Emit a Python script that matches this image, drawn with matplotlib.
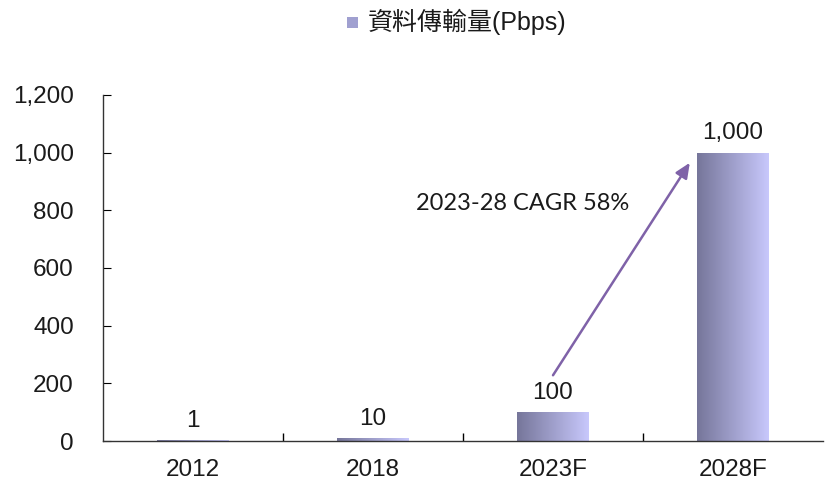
import matplotlib
matplotlib.use("Agg")
import matplotlib.pyplot as plt
import numpy as np
from matplotlib.colors import LinearSegmentedColormap
from matplotlib.ticker import FuncFormatter

categories = ["2012", "2018", "2023F", "2028F"]
values = [1, 10, 100, 1000]
value_labels = ["1", "10", "100", "1,000"]
series_name = "資料傳輸量(Pbps)"
cagr_text = "2023-28 CAGR 58%"

num_font = ["Liberation Sans", "DejaVu Sans"]

fig = plt.figure(figsize=(8.25, 4.82), dpi=100)
ax = fig.add_axes([103/825, 1-441/482, 720/825, 346/482])

cmap = LinearSegmentedColormap.from_list("g", ["#76769a", "#c8c8fc"])
grad = np.linspace(0, 1, 256).reshape(1, -1)
width = 0.4
x = np.arange(len(categories))
bars = ax.bar(x, values, width=width, color="none", edgecolor="none")
for b in bars:
    x0, y0 = b.get_x(), b.get_y()
    w, h = b.get_width(), b.get_height()
    im = ax.imshow(grad, cmap=cmap, aspect="auto",
                   extent=[x0, x0 + w, y0, y0 + max(h, 3)], zorder=2)
    rect = plt.Rectangle((x0, y0), w, max(h, 3), transform=ax.transData)
    im.set_clip_path(rect)

for xi, v, lab in zip(x, values, value_labels):
    ax.annotate(lab, (xi, v), xytext=(0, 6), textcoords="offset points",
                ha="center", va="bottom", fontsize=17.5, family=num_font,
                color="#1a1a1a")

ax.set_xlim(-0.5, 3.5)
ax.set_ylim(0, 1200)
ax.set_yticks(np.arange(0, 1201, 200))
ax.yaxis.set_major_formatter(FuncFormatter(lambda v, p: f"{int(v):,}"))
ax.set_xticks(x)
ax.set_xticklabels(categories)
ax.set_xticks(np.arange(0.5, 3.5, 1), minor=True)
ax.tick_params(axis="x", which="major", length=0, pad=13, labelsize=17.5)
ax.tick_params(axis="x", which="minor", length=6, direction="in", width=1)
ax.tick_params(axis="y", which="major", length=6, direction="in", pad=21,
               labelsize=17.5)
for lab in ax.get_xticklabels() + ax.get_yticklabels():
    lab.set_family(num_font)
    lab.set_color("#1a1a1a")
ax.spines["top"].set_visible(False)
ax.spines["right"].set_visible(False)
for s in ("left", "bottom"):
    ax.spines[s].set_color("#333333")
    ax.spines[s].set_linewidth(1)

ax.annotate("", xy=(2.76, 965), xytext=(2.0, 228),
            arrowprops=dict(arrowstyle="-|>,head_length=0.9,head_width=0.4",
                            color="#7f62a8", lw=1.8, shrinkA=0, shrinkB=0),
            zorder=5)
ax.text(1.83, 825, cagr_text, ha="center", va="center", fontsize=17,
        family=["Lato", "DejaVu Sans"], color="#1a1a1a")

# legend
fig.patches.append(plt.Rectangle((347/825, 1-28/482), 11/825, 11/482,
                                 transform=fig.transFigure,
                                 facecolor="#a0a0d0", edgecolor="none"))
fig.text(368/825, 1-22/482, series_name, ha="left", va="center",
         fontsize=18, family=["Liberation Sans", "Noto Sans CJK TC", "DejaVu Sans"],
         color="#1a1a1a")

fig.savefig("out.png", dpi=100)
